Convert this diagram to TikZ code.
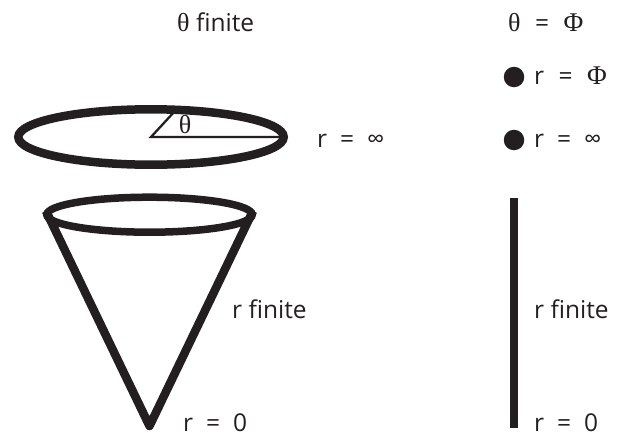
\documentclass[tikz,border=0pt]{standalone}
\usepackage{fontspec}
\setmainfont{Open Sans}
\newfontfamily\serifsym{Liberation Serif}
\definecolor{ink}{HTML}{231F20}
\tikzset{
  lab/.style={font=\fontsize{24.5}{28}\selectfont, text=ink, inner sep=0pt, anchor=base west},
  thick line/.style={draw=ink, line width=8.5pt},
  thin line/.style={draw=ink, line width=2.3pt},
  blob/.style={circle, fill=ink, minimum size=20.5pt, inner sep=0pt}
}
\newcommand{\thetasym}{{\fontsize{26}{28}\selectfont\serifsym θ}}
\newcommand{\phisym}{{\fontsize{27}{28}\selectfont\serifsym Φ}}
\newcommand{\eqsp}{\hspace{13pt}=\hspace{13pt}}
\newcommand{\eqphi}{\hspace{14.5pt}=\hspace{14.5pt}}
\begin{document}
\begin{tikzpicture}[x=1pt,y=-1pt]
\useasboundingbox (0,0) rectangle (621,434);
\node[lab] (t1) at (177,31) {\thetasym{} finite};
\node[lab] (t2) at (508,31) {\thetasym\eqphi\phisym};
\node[lab] (r1) at (534,84) {r\eqphi\phisym};
\node[lab] (r2) at (534,147) {r\eqsp∞};
\node[lab] (r3) at (317,147) {r\eqsp∞};
\node[lab] (f1) at (232,318) {r finite};
\node[lab] (f2) at (534,318) {r finite};
\node[lab] (z1) at (183,431) {r\eqsp0};
\node[lab] (z2) at (534,431) {r\eqsp0};
\node[blob] (d1) at (514,77) {};
\node[blob] (d2) at (514,140) {};
\coordinate (c) at (151,137);
\coordinate (a) at (175,111);
\coordinate (b) at (280,137);
\draw[thin line, line join=miter] (a) -- (c) -- (b);
\node[font=\fontsize{26}{28}\selectfont\serifsym, text=ink, inner sep=0pt, anchor=base] (th) at (185,133) {θ};
\draw[thick line] (c) ellipse [x radius=132.7, y radius=27.7];
\coordinate (ec) at (149.5,214.7);
\draw[line width=7.5pt, draw=ink] (ec) ellipse [x radius=102.7, y radius=17.5];
\coordinate (tl) at (46,211);
\coordinate (tr) at (253,211);
\coordinate (ap) at (149.5,426);
\draw[thick line, line join=round] (tl) -- (ap) -- (tr);
\coordinate (bt) at (514,198);
\coordinate (bb) at (514,428);
\draw[line width=8.3pt, draw=ink] (bt) -- (bb);
\end{tikzpicture}
\end{document}
